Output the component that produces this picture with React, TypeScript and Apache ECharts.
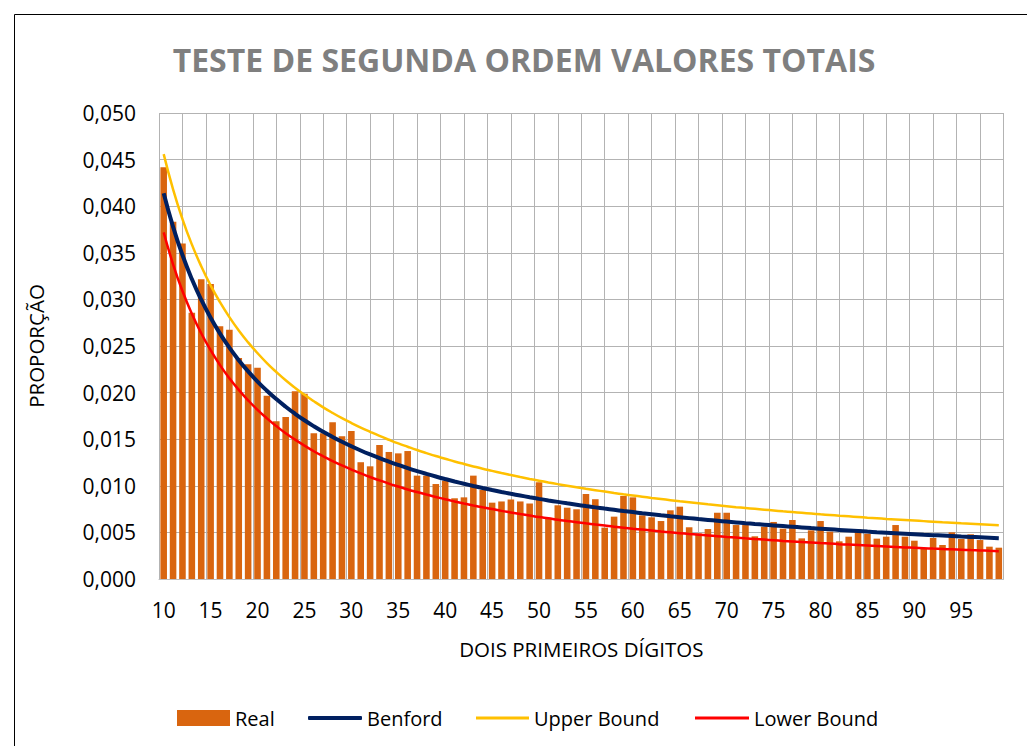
import React, { useEffect, useRef } from "react";
import * as echarts from "echarts";

const categories = [
  "10", "11", "12", "13", "14", "15", "16", "17", "18", "19",
  "20", "21", "22", "23", "24", "25", "26", "27", "28", "29",
  "30", "31", "32", "33", "34", "35", "36", "37", "38", "39",
  "40", "41", "42", "43", "44", "45", "46", "47", "48", "49",
  "50", "51", "52", "53", "54", "55", "56", "57", "58", "59",
  "60", "61", "62", "63", "64", "65", "66", "67", "68", "69",
  "70", "71", "72", "73", "74", "75", "76", "77", "78", "79",
  "80", "81", "82", "83", "84", "85", "86", "87", "88", "89",
  "90", "91", "92", "93", "94", "95", "96", "97", "98", "99",
];

const realValues = [
  0.04417, 0.03834, 0.03601, 0.02858, 0.03215, 0.03165, 0.02711, 0.02675, 0.02371, 0.02303,
  0.02267, 0.01967, 0.01692, 0.01738, 0.02014, 0.01988, 0.01563, 0.01563, 0.01681, 0.01531,
  0.01587, 0.01253, 0.01209, 0.01438, 0.01363, 0.01348, 0.01373, 0.01109, 0.01109, 0.01019,
  0.01055, 0.00866, 0.00876, 0.01109, 0.00955, 0.00819, 0.00832, 0.00853, 0.00832, 0.0081,
  0.01038, 0.0065, 0.00791, 0.00765, 0.00748, 0.00912, 0.00856, 0.00551, 0.00669, 0.00891,
  0.00876, 0.00683, 0.00662, 0.00622, 0.00737, 0.00776, 0.00555, 0.0049, 0.00536, 0.00711,
  0.00711, 0.00579, 0.00579, 0.00458, 0.00561, 0.00612, 0.0054, 0.00633, 0.00436, 0.00522,
  0.00622, 0.00508, 0.00404, 0.00454, 0.00533, 0.00486, 0.00433, 0.00454, 0.00579, 0.00454,
  0.00411, 0.00329, 0.0044, 0.00365, 0.00501, 0.00429, 0.0048, 0.00418, 0.00347, 0.00336,
];

const benfordValues = [
  0.041393, 0.037789, 0.034762, 0.032185, 0.029963, 0.028029, 0.026329, 0.024824, 0.023481, 0.022276,
  0.021189, 0.020203, 0.019305, 0.018483, 0.017729, 0.017033, 0.01639, 0.015794, 0.01524, 0.014723,
  0.01424, 0.013788, 0.013364, 0.012965, 0.012589, 0.012234, 0.011899, 0.011582, 0.011281, 0.010995,
  0.010724, 0.010465, 0.010219, 0.009984, 0.00976, 0.009545, 0.00934, 0.009143, 0.008955, 0.008774,
  0.0086, 0.008433, 0.008273, 0.008118, 0.007969, 0.007825, 0.007687, 0.007553, 0.007424, 0.007299,
  0.007179, 0.007062, 0.006949, 0.006839, 0.006733, 0.006631, 0.006531, 0.006434, 0.00634, 0.006249,
  0.00616, 0.006074, 0.00599, 0.005909, 0.00583, 0.005753, 0.005678, 0.005605, 0.005534, 0.005464,
  0.005397, 0.005331, 0.005267, 0.005205, 0.005144, 0.005084, 0.005026, 0.00497, 0.004914, 0.00486,
  0.004808, 0.004756, 0.004706, 0.004657, 0.004609, 0.004562, 0.004516, 0.004471, 0.004427, 0.004384,
];

const upperBound = [
  0.04559, 0.04181, 0.03862, 0.0359, 0.03356, 0.03151, 0.0297, 0.0281, 0.02667, 0.02539,
  0.02423, 0.02317, 0.02221, 0.02132, 0.02051, 0.01976, 0.01907, 0.01842, 0.01782, 0.01726,
  0.01674, 0.01625, 0.01579, 0.01535, 0.01494, 0.01455, 0.01419, 0.01384, 0.01351, 0.01319,
  0.0129, 0.01261, 0.01234, 0.01208, 0.01183, 0.0116, 0.01137, 0.01115, 0.01094, 0.01074,
  0.01055, 0.01036, 0.01018, 0.01001, 0.00984, 0.00968, 0.00953, 0.00938, 0.00923, 0.00909,
  0.00896, 0.00883, 0.0087, 0.00858, 0.00846, 0.00834, 0.00823, 0.00812, 0.00801, 0.00791,
  0.00781, 0.00771, 0.00762, 0.00753, 0.00744, 0.00735, 0.00726, 0.00718, 0.0071, 0.00702,
  0.00694, 0.00687, 0.00679, 0.00672, 0.00665, 0.00658, 0.00652, 0.00645, 0.00639, 0.00633,
  0.00627, 0.00621, 0.00615, 0.00609, 0.00604, 0.00598, 0.00593, 0.00588, 0.00583, 0.00578,
];

const lowerBound = [
  0.03719, 0.03377, 0.0309, 0.02847, 0.02637, 0.02455, 0.02295, 0.02154, 0.02029, 0.01917,
  0.01815, 0.01724, 0.01641, 0.01564, 0.01495, 0.01431, 0.01371, 0.01317, 0.01266, 0.01218,
  0.01174, 0.01133, 0.01094, 0.01058, 0.01024, 0.00992, 0.00961, 0.00933, 0.00906, 0.0088,
  0.00855, 0.00832, 0.0081, 0.00789, 0.00769, 0.0075, 0.00731, 0.00714, 0.00697, 0.00681,
  0.00665, 0.00651, 0.00636, 0.00623, 0.0061, 0.00597, 0.00585, 0.00573, 0.00561, 0.00551,
  0.0054, 0.0053, 0.0052, 0.0051, 0.00501, 0.00492, 0.00483, 0.00475, 0.00467, 0.00459,
  0.00451, 0.00444, 0.00436, 0.00429, 0.00423, 0.00416, 0.00409, 0.00403, 0.00397, 0.00391,
  0.00385, 0.0038, 0.00374, 0.00369, 0.00364, 0.00359, 0.00354, 0.00349, 0.00344, 0.00339,
  0.00335, 0.00331, 0.00326, 0.00322, 0.00318, 0.00314, 0.0031, 0.00307, 0.00303, 0.00299,
];

const titleText = "TESTE DE SEGUNDA ORDEM VALORES TOTAIS";
const xAxisName = "DOIS PRIMEIROS DÍGITOS";
const yAxisName = "PROPORÇÃO";
const seriesNames = ["Real", "Benford", "Upper Bound", "Lower Bound"];

export default function App() {
  const ref = useRef<HTMLDivElement>(null);

  useEffect(() => {
    if (!ref.current) return;
    const chart = echarts.init(ref.current, null, { renderer: "svg" });
    const font = "'Open Sans', sans-serif";
    const grid = "#b3b3b3";

    const legendBase = (
      name: string,
      left: number,
      itemWidth: number,
      itemHeight: number,
      icon: string
    ) => ({
      data: [{ name, icon }],
      left,
      top: 708,
      itemWidth,
      itemHeight,
      padding: 0,
      textStyle: { fontSize: 20, color: "#000", fontFamily: font },
    });

    chart.setOption({
      animation: false,
      backgroundColor: "#ffffff",
      graphic: [
        {
          type: "rect",
          shape: { x: 14.5, y: 14.5, width: 1100, height: 800 },
          style: { fill: "none", stroke: "#000", lineWidth: 1 },
          silent: true,
        },
        {
          type: "text",
          x: 524,
          y: 59,
          style: {
            text: titleText,
            align: "center",
            verticalAlign: "middle",
            fontSize: 32,
            fontWeight: "bold",
            fontFamily: font,
            fill: "#7f7f7f",
          },
        },
      ],
      legend: [
        legendBase(seriesNames[0], 177, 53, 16, "rect"),
        legendBase(seriesNames[1], 308, 54, 4, "roundRect"),
        legendBase(seriesNames[2], 476, 53, 3, "rect"),
        legendBase(seriesNames[3], 695, 54, 3, "rect"),
      ],
      grid: { left: 159, right: 23.5, top: 113, bottom: 167, containLabel: false },
      xAxis: [
        {
          type: "category",
          data: categories,
          boundaryGap: true,
          axisLine: { show: true, lineStyle: { color: "#bfbfbf", width: 1 } },
          axisTick: { show: false },
          axisLabel: { interval: 4, color: "#000", fontSize: 21, fontFamily: font, margin: 20 },
          splitLine: { show: false },
          name: xAxisName,
          nameLocation: "middle",
          nameGap: 59,
          nameTextStyle: { fontSize: 20.5, color: "#000", fontFamily: font },
        },
        {
          type: "value",
          min: 0,
          max: 36,
          interval: 1,
          position: "bottom",
          axisLabel: { show: false },
          axisLine: { show: false },
          axisTick: { show: false },
          splitLine: { show: true, lineStyle: { color: grid, width: 1 } },
        },
      ],
      yAxis: {
        type: "value",
        min: 0,
        max: 0.05,
        interval: 0.005,
        axisLine: { show: false },
        axisTick: { show: false },
        axisLabel: {
          color: "#000",
          fontSize: 21,
          fontFamily: font,
          margin: 23,
          formatter: (v: number) => v.toFixed(3).replace(".", ","),
        },
        splitLine: { show: true, lineStyle: { color: grid, width: 1 } },
        name: yAxisName,
        nameLocation: "middle",
        nameGap: 113,
        nameTextStyle: { fontSize: 20.5, color: "#000", fontFamily: font },
      },
      series: [
        {
          name: seriesNames[0],
          type: "bar",
          xAxisIndex: 0,
          data: realValues,
          barCategoryGap: "30%",
          itemStyle: { color: "#D9650F" },
        },
        {
          name: seriesNames[1],
          type: "line",
          xAxisIndex: 0,
          data: benfordValues,
          smooth: true,
          symbol: "none",
          lineStyle: { color: "#002060", width: 4 },
          itemStyle: { color: "#002060" },
        },
        {
          name: seriesNames[2],
          type: "line",
          xAxisIndex: 0,
          data: upperBound,
          smooth: true,
          symbol: "none",
          lineStyle: { color: "#FFC000", width: 2.5 },
          itemStyle: { color: "#FFC000" },
        },
        {
          name: seriesNames[3],
          type: "line",
          xAxisIndex: 0,
          data: lowerBound,
          smooth: true,
          symbol: "none",
          lineStyle: { color: "#FF0000", width: 2.5 },
          itemStyle: { color: "#FF0000" },
        },
      ],
    });

    return () => chart.dispose();
  }, []);

  return (
    <div
      ref={ref}
      style={{ position: "fixed", left: 0, top: 0, width: 1027, height: 746, background: "#fff" }}
    />
  );
}
